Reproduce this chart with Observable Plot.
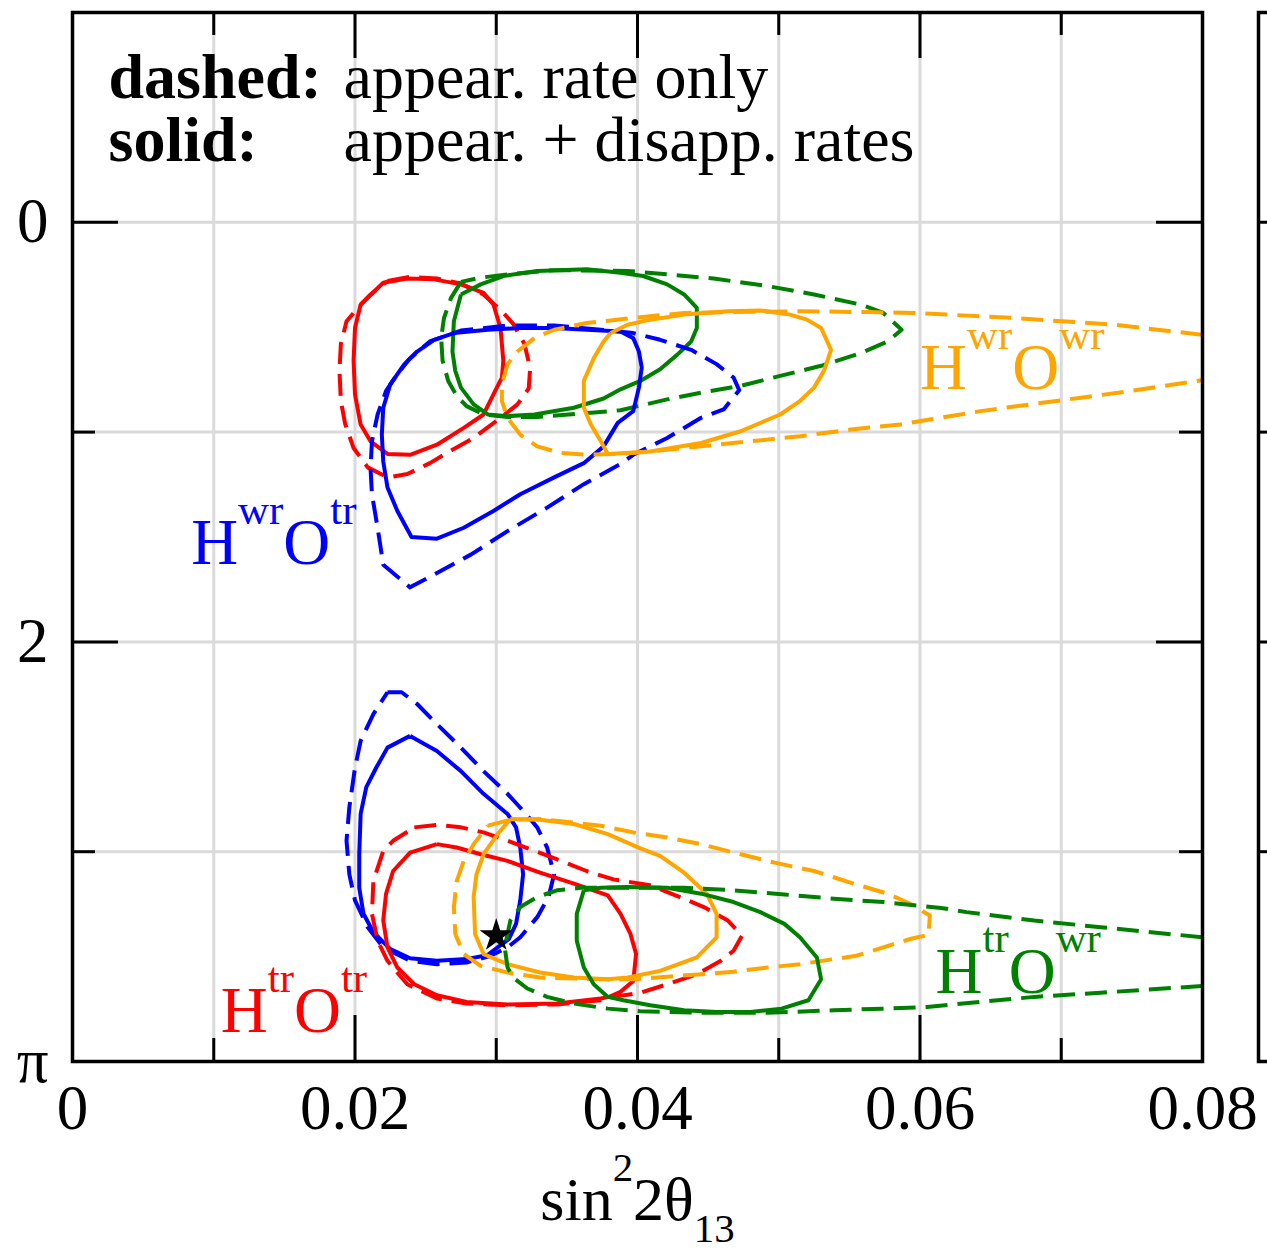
<!DOCTYPE html>
<html><head><meta charset="utf-8">
<script src="https://cdn.jsdelivr.net/npm/d3@7"></script>
<script src="https://cdn.jsdelivr.net/npm/@observablehq/plot@0.6"></script>
<style>
html,body{margin:0;padding:0;background:#fff;}
#wrap{position:relative;width:1267px;height:1255px;overflow:hidden;background:#fff;}
#wrap svg{position:absolute;top:0;}
</style></head>
<body><div id="wrap"></div>
<script>
// ---------- data (x = sin^2 2θ13, y = δ/π) ----------
const xTicks = [0, 0.02, 0.04, 0.06, 0.08];
const xTickLabels = ["0", "0.02", "0.04", "0.06", "0.08"];
const xMajor = [0.02, 0.04, 0.06];
const xMinor = [0.01, 0.03, 0.05, 0.07];
const xGrid = [0.01, 0.02, 0.03, 0.04, 0.05, 0.06, 0.07];
const yLabelTicks = [0, 0.5, 1];
const yTickLabels = ["0", "2", "π"];
const yMajor = [0, 0.5];
const yMinor = [0.25, 0.75];
const yGrid = [0, 0.25, 0.5, 0.75];
const xTitle = "sin^{2}2θ_{13}";
const legendKeys = ["dashed:", "solid:"];
const legendDescs = ["appear. rate only", "appear. + disapp. rates"];

const topRedSolid = [[0.0204,0.098],[0.0220,0.072],[0.0237,0.067],[0.0256,0.068],[0.0275,0.074],[0.0291,0.084],[0.0298,0.098],[0.0303,0.126],[0.0305,0.165],[0.0304,0.185],[0.0298,0.205],[0.0291,0.229],[0.0277,0.245],[0.0258,0.265],[0.0239,0.277],[0.0223,0.276],[0.0211,0.261],[0.0204,0.241],[0.0200,0.205],[0.0199,0.165],[0.0200,0.126]];
const topRedDashed = [[0.0223,0.070],[0.0239,0.065],[0.0258,0.067],[0.0275,0.073],[0.0291,0.086],[0.0304,0.106],[0.0312,0.121],[0.0320,0.145],[0.0324,0.174],[0.0323,0.198],[0.0315,0.217],[0.0303,0.233],[0.0284,0.257],[0.0270,0.270],[0.0253,0.287],[0.0237,0.300],[0.0223,0.304],[0.0209,0.292],[0.0199,0.269],[0.0193,0.240],[0.0190,0.213],[0.0189,0.177],[0.0190,0.145],[0.0194,0.118],[0.0202,0.102],[0.0211,0.086]];
const topGreenSolid = [[0.0275,0.086],[0.0270,0.118],[0.0269,0.154],[0.0271,0.177],[0.0275,0.197],[0.0284,0.217],[0.0294,0.229],[0.0308,0.231],[0.0327,0.229],[0.0355,0.221],[0.0376,0.210],[0.0388,0.199],[0.0402,0.189],[0.0416,0.175],[0.0428,0.158],[0.0438,0.142],[0.0442,0.126],[0.0442,0.102],[0.0433,0.086],[0.0421,0.074],[0.0404,0.064],[0.0388,0.060],[0.0364,0.056],[0.0329,0.058],[0.0305,0.064],[0.0289,0.074]];
const topGreenDashed = [[0.0275,0.071],[0.0268,0.090],[0.0263,0.114],[0.0261,0.138],[0.0262,0.165],[0.0266,0.189],[0.0272,0.207],[0.0279,0.219],[0.0291,0.229],[0.0308,0.232],[0.0329,0.232],[0.0360,0.228],[0.0388,0.224],[0.0421,0.211],[0.0445,0.203],[0.0473,0.195],[0.0501,0.183],[0.0530,0.171],[0.0558,0.156],[0.0577,0.142],[0.0587,0.128],[0.0574,0.108],[0.0558,0.098],[0.0525,0.086],[0.0492,0.076],[0.0454,0.067],[0.0421,0.062],[0.0393,0.058],[0.0341,0.057],[0.0308,0.062],[0.0289,0.066]];
const topBlueSolid = [[0.0388,0.130],[0.0364,0.128],[0.0341,0.126],[0.0317,0.126],[0.0294,0.128],[0.0270,0.132],[0.0256,0.140],[0.0244,0.154],[0.0235,0.169],[0.0225,0.193],[0.0220,0.221],[0.0219,0.253],[0.0220,0.285],[0.0223,0.316],[0.0230,0.344],[0.0240,0.375],[0.0258,0.377],[0.0277,0.364],[0.0298,0.344],[0.0317,0.324],[0.0341,0.304],[0.0362,0.287],[0.0376,0.267],[0.0386,0.239],[0.0397,0.225],[0.0401,0.197],[0.0403,0.173],[0.0401,0.154],[0.0397,0.138]];
const topBlueDashed = [[0.0374,0.128],[0.0341,0.123],[0.0308,0.123],[0.0275,0.129],[0.0253,0.142],[0.0239,0.162],[0.0230,0.181],[0.0222,0.201],[0.0216,0.229],[0.0212,0.261],[0.0211,0.293],[0.0212,0.324],[0.0216,0.364],[0.0220,0.408],[0.0239,0.435],[0.0258,0.418],[0.0282,0.396],[0.0308,0.368],[0.0336,0.340],[0.0362,0.312],[0.0388,0.288],[0.0397,0.277],[0.0421,0.257],[0.0445,0.233],[0.0461,0.223],[0.0472,0.200],[0.0468,0.185],[0.0456,0.169],[0.0438,0.152],[0.0416,0.140],[0.0397,0.132]];
const topOrangeSolid = [[0.0381,0.132],[0.0376,0.142],[0.0369,0.162],[0.0362,0.189],[0.0362,0.221],[0.0367,0.241],[0.0374,0.261],[0.0379,0.276],[0.0409,0.273],[0.0445,0.263],[0.0473,0.249],[0.0501,0.229],[0.0515,0.213],[0.0525,0.197],[0.0532,0.177],[0.0537,0.152],[0.0530,0.126],[0.0520,0.116],[0.0508,0.110],[0.0487,0.105],[0.0464,0.106],[0.0433,0.110],[0.0409,0.116],[0.0393,0.122]];
const topOrangeDashed = [[0.0800,0.134],[0.0737,0.122],[0.0666,0.114],[0.0596,0.108],[0.0563,0.107],[0.0515,0.106],[0.0468,0.107],[0.0433,0.108],[0.0397,0.114],[0.0364,0.120],[0.0341,0.128],[0.0327,0.138],[0.0315,0.154],[0.0308,0.169],[0.0304,0.193],[0.0304,0.213],[0.0308,0.233],[0.0317,0.253],[0.0329,0.267],[0.0346,0.275],[0.0364,0.277],[0.0388,0.276],[0.0409,0.273],[0.0445,0.267],[0.0480,0.261],[0.0515,0.255],[0.0551,0.247],[0.0586,0.241],[0.0607,0.235],[0.0643,0.225],[0.0678,0.217],[0.0714,0.209],[0.0749,0.201],[0.0800,0.188]];

const bottomBlueSolid = [[0.0239,0.612],[0.0258,0.630],[0.0275,0.654],[0.0291,0.681],[0.0308,0.705],[0.0314,0.721],[0.0317,0.745],[0.0319,0.777],[0.0317,0.808],[0.0314,0.836],[0.0309,0.854],[0.0301,0.864],[0.0294,0.873],[0.0279,0.878],[0.0258,0.880],[0.0239,0.877],[0.0225,0.866],[0.0213,0.846],[0.0206,0.824],[0.0203,0.793],[0.0203,0.753],[0.0204,0.705],[0.0208,0.673],[0.0215,0.650],[0.0223,0.626]];
const bottomBlueDashed = [[0.0223,0.560],[0.0233,0.560],[0.0244,0.574],[0.0258,0.598],[0.0275,0.626],[0.0291,0.654],[0.0308,0.681],[0.0320,0.703],[0.0329,0.721],[0.0336,0.745],[0.0341,0.777],[0.0337,0.804],[0.0329,0.828],[0.0317,0.852],[0.0308,0.864],[0.0296,0.874],[0.0279,0.882],[0.0258,0.884],[0.0239,0.880],[0.0220,0.864],[0.0209,0.840],[0.0200,0.808],[0.0196,0.777],[0.0194,0.737],[0.0196,0.697],[0.0200,0.650],[0.0204,0.618],[0.0213,0.586]];
const bottomRedSolid = [[0.0258,0.741],[0.0272,0.745],[0.0289,0.753],[0.0308,0.761],[0.0331,0.775],[0.0355,0.788],[0.0379,0.802],[0.0388,0.824],[0.0395,0.848],[0.0399,0.872],[0.0397,0.904],[0.0388,0.917],[0.0380,0.923],[0.0374,0.925],[0.0343,0.931],[0.0308,0.932],[0.0279,0.929],[0.0258,0.921],[0.0242,0.908],[0.0230,0.888],[0.0223,0.864],[0.0220,0.832],[0.0222,0.800],[0.0227,0.773],[0.0239,0.751]];
const bottomRedDashed = [[0.0242,0.721],[0.0258,0.718],[0.0275,0.721],[0.0291,0.727],[0.0308,0.737],[0.0327,0.749],[0.0346,0.761],[0.0364,0.773],[0.0383,0.783],[0.0409,0.790],[0.0430,0.804],[0.0447,0.816],[0.0464,0.832],[0.0474,0.850],[0.0468,0.868],[0.0459,0.880],[0.0442,0.896],[0.0421,0.908],[0.0402,0.918],[0.0383,0.923],[0.0374,0.927],[0.0343,0.932],[0.0308,0.933],[0.0279,0.931],[0.0258,0.925],[0.0237,0.908],[0.0223,0.880],[0.0216,0.856],[0.0212,0.824],[0.0213,0.785],[0.0220,0.749],[0.0227,0.737]];
const bottomOrangeSolid = [[0.0310,0.711],[0.0331,0.712],[0.0355,0.717],[0.0379,0.729],[0.0402,0.746],[0.0416,0.755],[0.0433,0.775],[0.0449,0.800],[0.0456,0.824],[0.0456,0.852],[0.0442,0.876],[0.0416,0.892],[0.0393,0.900],[0.0379,0.902],[0.0355,0.900],[0.0331,0.894],[0.0308,0.884],[0.0291,0.872],[0.0285,0.848],[0.0284,0.804],[0.0286,0.777],[0.0291,0.753],[0.0301,0.729]];
const bottomOrangeDashed = [[0.0294,0.719],[0.0310,0.712],[0.0331,0.711],[0.0374,0.719],[0.0397,0.727],[0.0421,0.733],[0.0445,0.741],[0.0468,0.751],[0.0497,0.763],[0.0525,0.773],[0.0553,0.788],[0.0577,0.800],[0.0593,0.812],[0.0607,0.826],[0.0606,0.849],[0.0593,0.854],[0.0574,0.864],[0.0555,0.874],[0.0539,0.878],[0.0515,0.884],[0.0492,0.888],[0.0468,0.893],[0.0445,0.896],[0.0421,0.899],[0.0397,0.902],[0.0374,0.902],[0.0331,0.900],[0.0308,0.894],[0.0289,0.886],[0.0277,0.872],[0.0271,0.848],[0.0270,0.816],[0.0272,0.785],[0.0277,0.761],[0.0284,0.741]];
const bottomGreenSolid = [[0.0362,0.796],[0.0357,0.824],[0.0357,0.856],[0.0362,0.888],[0.0369,0.908],[0.0379,0.923],[0.0390,0.927],[0.0409,0.933],[0.0433,0.939],[0.0456,0.941],[0.0480,0.941],[0.0502,0.937],[0.0521,0.927],[0.0530,0.902],[0.0527,0.876],[0.0515,0.852],[0.0504,0.836],[0.0487,0.822],[0.0468,0.810],[0.0445,0.800],[0.0421,0.793],[0.0393,0.792],[0.0374,0.793]];
const bottomGreenDashed = [[0.0800,0.852],[0.0728,0.840],[0.0681,0.832],[0.0633,0.822],[0.0615,0.817],[0.0574,0.810],[0.0539,0.806],[0.0504,0.801],[0.0468,0.796],[0.0433,0.793],[0.0397,0.793],[0.0360,0.793],[0.0343,0.796],[0.0329,0.804],[0.0317,0.816],[0.0310,0.832],[0.0306,0.864],[0.0308,0.888],[0.0312,0.900],[0.0322,0.913],[0.0336,0.923],[0.0355,0.931],[0.0379,0.937],[0.0402,0.940],[0.0445,0.942],[0.0492,0.942],[0.0539,0.939],[0.0574,0.937],[0.0605,0.935],[0.0681,0.923],[0.0728,0.918],[0.0800,0.910]];

const starX = [0.0300];
const starY = [0.850];

const labelText = ["H^{wr}O^{tr}", "H^{wr}O^{wr}", "H^{tr}O^{tr}", "H^{tr}O^{wr}"];
const labelX = [0.0084, 0.0600, 0.0105, 0.0611];
const labelY = [0.407, 0.199, 0.965, 0.918];
const labelHue = ["blue", "orange", "red", "green"];

// ---------- styles ----------
const COLORS = {red: "#ff0000", green: "#008000", blue: "#0000ff", orange: "#ffa500"};
const FONT = "Liberation Serif, Times New Roman, serif";
const W = 1267, H = 1255, ML = 72, MR = 65, MT = 12, MB = 194;
const FW = W - ML - MR, FH = H - MT - MB;
const TMAJ = 46, TMIN = 23;

const contours = [
  {pts: topRedSolid, hue: "red", dashed: false, closed: true},
  {pts: topRedDashed, hue: "red", dashed: true, closed: true},
  {pts: topGreenSolid, hue: "green", dashed: false, closed: true},
  {pts: topGreenDashed, hue: "green", dashed: true, closed: true},
  {pts: topBlueSolid, hue: "blue", dashed: false, closed: true},
  {pts: topBlueDashed, hue: "blue", dashed: true, closed: true},
  {pts: topOrangeSolid, hue: "orange", dashed: false, closed: true},
  {pts: topOrangeDashed, hue: "orange", dashed: true, closed: false},
  {pts: bottomBlueSolid, hue: "blue", dashed: false, closed: true},
  {pts: bottomBlueDashed, hue: "blue", dashed: true, closed: true},
  {pts: bottomRedSolid, hue: "red", dashed: false, closed: true},
  {pts: bottomRedDashed, hue: "red", dashed: true, closed: true},
  {pts: bottomOrangeSolid, hue: "orange", dashed: false, closed: true},
  {pts: bottomOrangeDashed, hue: "orange", dashed: true, closed: true},
  {pts: bottomGreenSolid, hue: "green", dashed: false, closed: true},
  {pts: bottomGreenDashed, hue: "green", dashed: true, closed: false}
];

const lineMarks = contours.map(c => {
  const pts = c.closed ? [...c.pts, c.pts[0]] : c.pts;
  return Plot.line(pts, {
    x: d => d[0], y: d => d[1],
    stroke: COLORS[c.hue], strokeWidth: 4,
    strokeDasharray: c.dashed ? "22,10" : null,
    strokeLinecap: "butt", strokeLinejoin: "round", clip: true
  });
});

const labels = labelText.map((t, i) => ({t, x: labelX[i], y: labelY[i], c: COLORS[labelHue[i]]}));
const stars = starX.map((x, i) => ({x, y: starY[i]}));

const txtBlock = (lines, dx, bold) => Plot.text([lines.join("\n")], {
  text: d => d, frameAnchor: "top-left", dx, dy: 148, fontSize: 64, lineHeight: 63 / 64,
  fontWeight: bold ? "bold" : "normal", textAnchor: "start", lineAnchor: "bottom", fontFamily: FONT
});

const main = Plot.plot({
  width: W, height: H,
  marginLeft: ML, marginRight: MR, marginTop: MT, marginBottom: MB,
  style: {fontFamily: FONT, background: "white", color: "black"},
  x: {domain: [0, 0.08]},
  y: {domain: [-0.25, 1], reverse: true},
  marks: [
    Plot.gridX(xGrid, {stroke: "#dadada", strokeOpacity: 1, strokeWidth: 3}),
    Plot.gridY(yGrid, {stroke: "#dadada", strokeOpacity: 1, strokeWidth: 3}),
    ...lineMarks,
    Plot.dot(stars, {x: "x", y: "y", symbol: "star", r: 10.5, fill: "black", stroke: "none"}),
    Plot.text(labels, {x: "x", y: "y", text: "t", fill: "c", fontSize: 65, textAnchor: "start", lineAnchor: "bottom", fontFamily: FONT}),
    Plot.frame({stroke: "black", strokeWidth: 3.5}),
    Plot.tickY(yMajor, {y: d => d, insetRight: FW - TMAJ, stroke: "black", strokeWidth: 3}),
    Plot.tickY(yMinor, {y: d => d, insetRight: FW - TMIN, stroke: "black", strokeWidth: 3}),
    Plot.tickY(yMajor, {y: d => d, insetLeft: FW - TMAJ, stroke: "black", strokeWidth: 3}),
    Plot.tickY(yMinor, {y: d => d, insetLeft: FW - TMIN, stroke: "black", strokeWidth: 3}),
    Plot.tickX(xMajor, {x: d => d, insetTop: FH - TMAJ, stroke: "black", strokeWidth: 3}),
    Plot.tickX(xMinor, {x: d => d, insetTop: FH - TMIN, stroke: "black", strokeWidth: 3}),
    Plot.tickX(xMajor, {x: d => d, insetBottom: FH - TMAJ, stroke: "black", strokeWidth: 3}),
    Plot.tickX(xMinor, {x: d => d, insetBottom: FH - TMIN, stroke: "black", strokeWidth: 3}),
    Plot.axisX({anchor: "bottom", ticks: xTicks, tickFormat: d => xTickLabels[xTicks.indexOf(d)], tickSize: 0, tickPadding: 23, fontSize: 63, label: null}),
    Plot.axisY({anchor: "left", ticks: yLabelTicks, tickFormat: d => yTickLabels[yLabelTicks.indexOf(d)], tickSize: 0, tickPadding: 24, fontSize: 63, label: null}),
    txtBlock(legendKeys, 36, true),
    txtBlock(legendDescs, 271, false),
    Plot.text([xTitle], {text: d => d, frameAnchor: "bottom", dy: 158, fontSize: 62, textAnchor: "middle", lineAnchor: "bottom", fontFamily: FONT})
  ]
});

// neighbouring panel (only its left edge is visible)
const side = Plot.plot({
  width: 330, height: H, marginLeft: 10, marginRight: 0, marginTop: MT, marginBottom: MB,
  style: {background: "transparent"},
  x: {domain: [0, 1], axis: null},
  y: {domain: [-0.25, 1], reverse: true, axis: null},
  marks: [
    Plot.frame({stroke: "black", strokeWidth: 3.5}),
    Plot.tickY(yMajor, {y: d => d, insetRight: 320 - TMAJ, stroke: "black", strokeWidth: 3}),
    Plot.tickY(yMinor, {y: d => d, insetRight: 320 - TMIN, stroke: "black", strokeWidth: 3})
  ]
});

const wrap = document.getElementById("wrap");
main.style.left = "0px";
side.style.left = (1258 - 10) + "px";
wrap.appendChild(main);
wrap.appendChild(side);

// rich text: ^{..} superscript, _{..} subscript
function richify(root) {
  root.querySelectorAll("text").forEach(t => {
    const s = t.textContent;
    if (!/[\^_]\{/.test(s) || t.querySelector("tspan")) return;
    const fs = parseFloat(getComputedStyle(t).fontSize);
    const re = /([\^_])\{([^}]*)\}|([^\^_]+)/g;
    const parts = [];
    let m;
    while ((m = re.exec(s))) parts.push(m[3] != null ? {k: "n", s: m[3]} : {k: m[1], s: m[2]});
    t.textContent = "";
    let off = 0;
    for (const p of parts) {
      const ts = document.createElementNS("http://www.w3.org/2000/svg", "tspan");
      let target = 0, size = fs;
      if (p.k === "^") { target = -0.62 * fs; size = 0.66 * fs; }
      else if (p.k === "_") { target = 0.36 * fs; size = 0.66 * fs; }
      ts.setAttribute("dy", target - off);
      ts.setAttribute("font-size", size);
      ts.textContent = p.s;
      off = target;
      t.appendChild(ts);
    }
  });
}
richify(main);
</script>
</body></html>
